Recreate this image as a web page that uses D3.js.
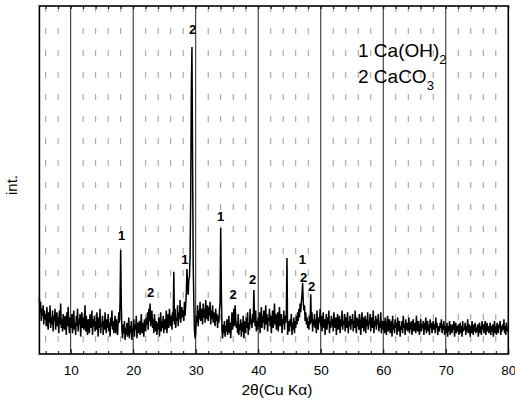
<!DOCTYPE html>
<html><head><meta charset="utf-8">
<script src="https://cdn.jsdelivr.net/npm/d3@7/dist/d3.min.js"></script>
<style>html,body{margin:0;padding:0;background:#fff;} svg{display:block;}</style>
</head><body>
<svg id="chart" width="515" height="401"></svg>
<script>
// ---- data ----
const startAngle = 5.0;   // 2θ of first sample
const stepAngle = 0.1;    // sampling step
const intensity = [
160,120,150,95,130,110,140,85,125,100,
115,80,135,95,70,120,90,140,75,105,
85,125,65,110,95,130,70,100,120,80,
105,60,125,85,145,75,100,65,115,90,
70,110,95,55,120,80,135,90,60,105,
95,75,115,60,100,125,70,90,55,110,
80,130,65,100,85,115,50,95,120,75,
105,70,90,140,65,110,80,55,100,85,
60,115,90,75,125,55,100,80,110,65,
95,70,120,85,50,105,75,130,60,90,
80,110,55,95,70,120,85,60,100,75,
115,65,90,50,105,80,125,70,95,60,
85,110,60,100,75,55,95,120,90,150,
299,140,70,45,85,60,95,40,75,55,
90,50,70,105,45,80,60,95,40,75,
65,100,50,85,70,110,45,90,60,80,
95,55,75,115,60,90,70,50,100,80,
65,105,85,120,70,130,95,145,80,110,
125,75,100,60,115,85,65,95,55,90,
70,105,50,85,120,65,95,75,110,60,
100,70,85,125,60,95,115,75,130,90,
80,110,70,120,95,236,85,130,75,105,
95,140,80,120,100,155,90,115,135,105,
125,95,150,110,140,175,244,200,170,215,
220,280,450,760,882,560,260,150,70,45,
60,110,90,140,80,125,100,150,95,130,
115,85,145,105,130,90,155,120,100,140,
95,135,110,150,85,125,100,140,90,120,
105,80,130,95,115,75,110,90,125,150,
362,180,70,45,85,60,95,50,80,65,
100,55,75,110,60,90,45,85,120,70,
95,130,80,140,105,75,90,60,115,55,
85,70,100,50,90,65,110,45,80,95,
60,105,75,120,55,90,70,130,85,100,
75,115,90,184,110,80,125,65,95,70,
105,80,120,60,95,135,75,110,90,125,
70,100,140,85,115,65,105,95,130,80,
110,60,95,125,75,100,145,85,115,70,
90,120,65,105,135,80,95,115,60,100,
85,125,70,110,90,120,276,55,75,95,
65,100,80,115,55,90,70,105,60,95,
75,110,85,120,95,130,105,145,120,150,
170,204,150,125,140,95,120,85,105,75,
95,70,110,85,172,90,120,65,100,80,
115,75,100,60,125,85,70,105,90,130,
80,110,65,95,120,75,100,55,90,115,
70,105,85,125,60,95,75,110,80,100,
65,120,90,75,105,55,95,115,70,85,
110,60,100,80,125,70,95,85,115,65,
90,105,75,120,60,95,80,110,70,100,
85,115,65,95,75,125,90,60,105,80,
100,70,115,85,55,95,120,75,105,65,
90,110,60,100,80,120,70,95,85,115,
65,105,90,75,125,60,95,80,110,70,
100,85,115,65,90,75,120,60,95,80,
70,95,60,105,80,55,90,110,65,85,
100,60,80,95,50,110,70,85,60,100,
75,90,55,105,65,85,95,50,80,70,
95,60,110,75,85,55,100,70,90,65,
80,105,60,90,70,95,55,85,100,65,
75,90,60,110,80,65,95,70,55,85,
100,65,85,75,95,55,90,70,105,60,
80,95,65,85,55,100,75,90,60,80,
95,70,85,60,105,75,90,55,80,70,
65,90,75,100,60,85,70,95,55,80,
75,60,90,50,80,65,95,55,85,70,
60,85,70,95,50,75,90,60,80,65,
85,55,75,90,60,80,50,95,65,75,
70,90,55,80,65,100,60,75,85,50,
80,60,95,70,55,85,65,90,60,75,
65,85,50,75,90,60,80,55,95,70,
85,60,75,95,55,70,90,65,80,60,
70,90,55,80,65,85,50,75,95,60,
80,55,90,70,60,85,75,95,55,80,
65,85,70,100,60,80,55,90,75,65,
70
];
const majorTicks = [10,20,30,40,50,60,70,80];
const minorTicks = [6,8,12,14,16,18,22,24,26,28,32,34,36,38,42,44,46,48,52,54,56,58,62,64,66,68,72,74,76,78];
const gridMajor = [10,20,30,40,50,60,70];
// peak annotations: angle, intensity (label baseline), phase number
const peakLabelAngle = [18.15, 22.8, 28.26, 29.5, 34.0, 35.97, 39.12, 47.06, 47.27, 48.55];
const peakLabelInt   = [328, 164, 259, 920, 382, 157, 200, 260, 208, 182];
const peakLabelText  = ["1","2","1","2","1","2","2","1","2","2"];
const legendNum = ["1","2"];
const legendName = ["Ca(OH)","CaCO"];
const legendSub = ["2","3"];
const xTitle = "2θ(Cu Kα)";
const yTitle = "int.";

// ---- drawing ----
(function(){
const svg = d3.select("#chart");
const pL = 39.4, pR = 508.3, pT = 6, pB = 354;
const x = d3.scaleLinear().domain([5,80]).range([pL,pR]);
const y = d3.scaleLinear().domain([0,1000]).range([pB,pT]);
const font = "Arial, 'Liberation Sans', Helvetica, sans-serif";

// minor dotted grid
svg.append("g").selectAll("line").data(minorTicks).join("line")
  .attr("x1", d=>x(d)).attr("x2", d=>x(d)).attr("y1", pT).attr("y2", pB)
  .attr("stroke", "#9a9a9a").attr("stroke-width", 1).attr("stroke-dasharray", "6,16");
// major solid grid
svg.append("g").selectAll("line").data(gridMajor).join("line")
  .attr("x1", d=>x(d)).attr("x2", d=>x(d)).attr("y1", pT).attr("y2", pB)
  .attr("stroke", "#222").attr("stroke-width", 1);

// pattern
const pts = intensity.map((v,i)=>[startAngle + i*stepAngle, v]);
svg.append("path").datum(pts)
  .attr("d", d3.line().x(d=>x(d[0])).y(d=>y(d[1])))
  .attr("fill","none").attr("stroke","#000").attr("stroke-width",1.5)
  .attr("stroke-linejoin","miter").attr("stroke-miterlimit",2);

// axes
const gB = svg.append("g").attr("transform",`translate(0,${pB})`)
  .call(d3.axisBottom(x).tickValues(majorTicks).tickSize(-5).tickPadding(11).tickFormat(d3.format("d")));
gB.select(".domain").remove();
gB.selectAll("text").attr("font-family", font).attr("font-size", 13.5).attr("fill","#000");
gB.selectAll("line").attr("stroke","#000");
const gBm = svg.append("g").attr("transform",`translate(0,${pB})`)
  .call(d3.axisBottom(x).tickValues(minorTicks).tickSize(-3).tickFormat(""));
gBm.select(".domain").remove();
const gT = svg.append("g").attr("transform",`translate(0,${pT})`)
  .call(d3.axisTop(x).tickValues(majorTicks.concat(minorTicks)).tickSize(-3).tickFormat(""));
gT.select(".domain").remove();

// frame
svg.append("rect").attr("x",pL).attr("y",pT).attr("width",pR-pL).attr("height",pB-pT)
  .attr("fill","none").attr("stroke","#000").attr("stroke-width",1.6);

// peak labels
svg.append("g").selectAll("text").data(peakLabelText).join("text")
  .attr("x",(d,i)=>x(peakLabelAngle[i])).attr("y",(d,i)=>y(peakLabelInt[i]))
  .attr("text-anchor","middle").attr("font-family",font).attr("font-size",13)
  .attr("font-weight","bold").text(d=>d);

// legend
const lg = svg.append("g").attr("font-family",font).attr("fill","#000");
legendNum.forEach((n,i)=>{
  const t = lg.append("text").attr("x",358).attr("y",57 + i*26).attr("font-size",19);
  t.append("tspan").text(n + "\u00a0");
  t.append("tspan").text(legendName[i]);
  t.append("tspan").attr("font-size",13).attr("dy",7).text(legendSub[i]);
});

// titles
svg.append("text").attr("x",277).attr("y",395).attr("text-anchor","middle")
  .attr("font-family",font).attr("font-size",15.5).text(xTitle);
svg.append("text").attr("transform","translate(17,185) rotate(-90)").attr("text-anchor","middle")
  .attr("font-family",font).attr("font-size",15).text(yTitle);
})();
</script>
</body></html>
